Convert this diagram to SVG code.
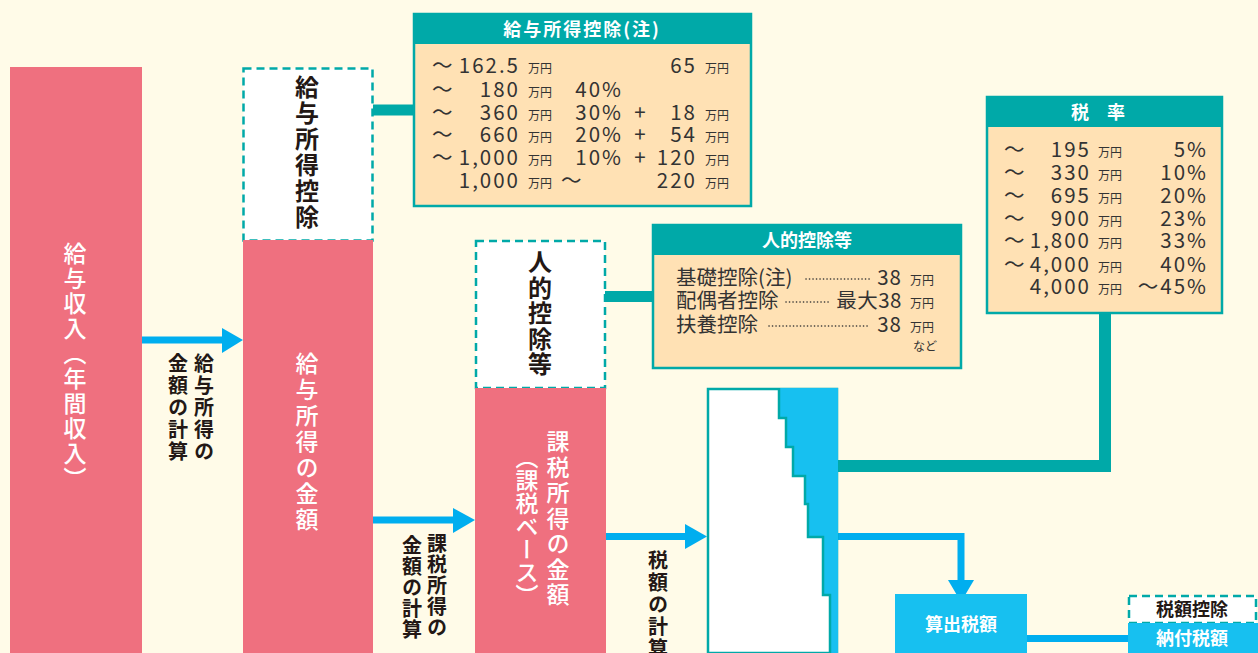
<svg xmlns="http://www.w3.org/2000/svg" width="1258" height="653" viewBox="0 0 1258 653">
<style>
text{font-family:"Noto Sans CJK JP","Noto Sans",sans-serif;}
.v{writing-mode:vertical-rl;}
.pinkT{fill:#fff;font-size:23px;font-weight:500;}
.darkT{fill:#231815;font-size:24px;font-weight:700;}
.lbl{fill:#231815;font-size:20px;font-weight:700;}
.pink{fill:#EF707F;}
.dash{fill:#fff;stroke:#00A9A8;stroke-width:2.5;stroke-dasharray:8 5;}
.tbox{fill:#FFE1B4;stroke:#00A9A8;stroke-width:2.5;}
.thead{fill:#00A9A8;}
.hdr{fill:#fff;font-size:18px;font-weight:700;text-anchor:middle;}
.t{fill:#333;font-size:20.5px;}
.t text{letter-spacing:2px;}
.r{text-anchor:end;}
.u{fill:#333;font-size:12px;}
.blue{fill:#17C0F0;}
.arrow{stroke:#00AEEF;stroke-width:7;fill:none;}
.ahead{fill:#00AEEF;}
.tl{stroke:#00A9A8;fill:none;}
.dots{stroke:#333;stroke-width:1.6;stroke-dasharray:0.1 3.4;stroke-linecap:round;}
.wT{fill:#fff;font-size:18px;font-weight:700;text-anchor:middle;}
.jt{fill:#333;font-size:20.5px;}
</style>
<rect width="1258" height="653" fill="#FFFBE8"/>

<g id="connectors">
  <line class="tl" x1="373" y1="110" x2="415" y2="110" stroke-width="11"/>
  <line class="tl" x1="605" y1="296.5" x2="654" y2="296.5" stroke-width="11"/>
  <path class="tl" d="M1105,313 V466 H837" stroke-width="12"/>
  <line class="arrow" x1="141" y1="340" x2="224" y2="340"/>
  <polygon class="ahead" points="222,328 243,340 222,353"/>
  <line class="arrow" x1="373" y1="520" x2="455" y2="520"/>
  <polygon class="ahead" points="453,508 475,520 453,533"/>
  <line class="arrow" x1="605" y1="536.5" x2="687" y2="536.5"/>
  <polygon class="ahead" points="685,524 707,536.5 685,549"/>
  <path class="arrow" d="M837,536.5 H961 V582" stroke-width="8"/>
  <polygon class="ahead" points="948,580 974,580 961,602"/>
  <line class="arrow" x1="1027" y1="638.5" x2="1129" y2="638.5"/>
  <text class="lbl v" x="204" y="353" letter-spacing="2">給与所得の</text>
  <text class="lbl v" x="178" y="353" letter-spacing="2">金額の計算</text>
  <text class="lbl v" x="437" y="533" letter-spacing="1">課税所得の</text>
  <text class="lbl v" x="412" y="535" letter-spacing="1">金額の計算</text>
  <text class="lbl v" x="658" y="550" letter-spacing="2">税額の計算</text>
</g>

<g id="kyuyo-shunyu">
  <rect class="pink" x="10" y="67" width="132" height="586"/>
  <text class="pinkT v" x="75" y="242" letter-spacing="2">給与収入（年間収入）</text>
</g>

<g id="kyuyo-shotoku-kojo">
  <rect class="dash" x="243.5" y="68.5" width="129" height="172"/>
  <text class="darkT v" x="307" y="75" letter-spacing="2">給与所得控除</text>
</g>

<g id="kyuyo-shotoku">
  <rect class="pink" x="243" y="240" width="130" height="413"/>
  <text class="pinkT v" x="307" y="352" letter-spacing="3">給与所得の金額</text>
</g>

<g id="jinteki-kojo">
  <rect class="dash" x="476" y="241" width="129" height="147"/>
  <text class="darkT v" x="540" y="250" letter-spacing="1.5">人的控除等</text>
</g>

<g id="kazei-shotoku">
  <rect class="pink" x="475" y="388" width="131" height="265"/>
  <text class="pinkT v" x="558" y="430" letter-spacing="2.5">課税所得の金額</text>
  <text class="pinkT v" x="527" y="446" font-size="22">（課税ベース）</text>
</g>

<g id="zeigaku-keisan">
  <rect x="708" y="389" width="129" height="264" fill="#fff" stroke="#00A9A8" stroke-width="2.5"/>
  <polygon class="blue" points="779,388 838,388 838,653 830,653 830,595 823,595 823,537 808,537 808,504 805,504 805,476 793,476 793,447 786,447 786,418 779,418"/>
  <polyline fill="none" stroke="#00A9A8" stroke-width="2.5" points="779,388 779,418 786,418 786,447 793,447 793,476 805,476 805,504 808,504 808,537 823,537 823,595 830,595 830,653"/>
</g>

<g id="kyuyo-kojo-table">
  <rect class="tbox" x="414" y="14" width="337" height="192"/>
  <rect class="thead" x="414" y="14" width="337" height="30"/>
  <text class="hdr" x="582" y="36" letter-spacing="2">給与所得控除(注)</text>
  <g class="t">
    <text x="432" y="73">～</text><text class="r" x="520" y="73">162.5</text>
    <text class="r" x="697" y="73">65</text>
    <text x="432" y="97">～</text><text class="r" x="520" y="97">180</text>
    <text class="r" x="623" y="97">40%</text>
    <text x="432" y="120">～</text><text class="r" x="520" y="120">360</text>
    <text class="r" x="623" y="120">30%</text><text x="641" y="120" text-anchor="middle">+</text><text class="r" x="697" y="120">18</text>
    <text x="432" y="142">～</text><text class="r" x="520" y="142">660</text>
    <text class="r" x="623" y="142">20%</text><text x="641" y="142" text-anchor="middle">+</text><text class="r" x="697" y="142">54</text>
    <text x="432" y="165">～</text><text class="r" x="520" y="165">1,000</text>
    <text class="r" x="623" y="165">10%</text><text x="641" y="165" text-anchor="middle">+</text><text class="r" x="697" y="165">120</text>
    <text class="r" x="520" y="188">1,000</text><text x="561" y="188">～</text>
    <text class="r" x="697" y="188">220</text>
  </g>
  <g class="u">
    <text x="528" y="73">万円</text><text x="705" y="73">万円</text>
    <text x="528" y="97">万円</text>
    <text x="528" y="120">万円</text><text x="705" y="120">万円</text>
    <text x="528" y="142">万円</text><text x="705" y="142">万円</text>
    <text x="528" y="165">万円</text><text x="705" y="165">万円</text>
    <text x="528" y="188">万円</text><text x="705" y="188">万円</text>
  </g>
</g>

<g id="zeiritsu-table">
  <rect class="tbox" x="987" y="97" width="235" height="216"/>
  <rect class="thead" x="987" y="97" width="235" height="30"/>
  <text class="hdr" x="1098" y="119">税　率</text>
  <g class="t">
    <text x="1004" y="157">～</text><text class="r" x="1091" y="157">195</text><text class="r" x="1208" y="157">5%</text>
    <text x="1004" y="180">～</text><text class="r" x="1091" y="180">330</text><text class="r" x="1208" y="180">10%</text>
    <text x="1004" y="203">～</text><text class="r" x="1091" y="203">695</text><text class="r" x="1208" y="203">20%</text>
    <text x="1004" y="226">～</text><text class="r" x="1091" y="226">900</text><text class="r" x="1208" y="226">23%</text>
    <text x="1004" y="248">～</text><text class="r" x="1091" y="248">1,800</text><text class="r" x="1208" y="248">33%</text>
    <text x="1004" y="272">～</text><text class="r" x="1091" y="272">4,000</text><text class="r" x="1208" y="272">40%</text>
    <text class="r" x="1091" y="294">4,000</text><text class="r" x="1208" y="294">～45%</text>
  </g>
  <g class="u">
    <text x="1098" y="157">万円</text><text x="1098" y="180">万円</text><text x="1098" y="203">万円</text>
    <text x="1098" y="226">万円</text><text x="1098" y="248">万円</text><text x="1098" y="272">万円</text>
    <text x="1098" y="294">万円</text>
  </g>
</g>

<g id="jinteki-kojo-table">
  <rect class="tbox" x="653" y="225" width="308" height="143"/>
  <rect class="thead" x="653" y="225" width="308" height="30"/>
  <text class="hdr" x="807" y="247">人的控除等</text>
  <g class="jt">
    <text x="676" y="285">基礎控除(注)</text>
    <text class="r" x="902" y="285" letter-spacing="1">38</text>
    <text x="676" y="308">配偶者控除</text>
    <text class="r" x="902" y="308" letter-spacing="0.5">最大38</text>
    <text x="676" y="332">扶養控除</text>
    <text class="r" x="902" y="332" letter-spacing="1">38</text>
  </g>
  <line class="dots" x1="806" y1="279" x2="870" y2="279"/>
  <line class="dots" x1="786" y1="302" x2="830" y2="302"/>
  <line class="dots" x1="769" y1="326" x2="870" y2="326"/>
  <g class="u">
    <text x="910" y="285">万円</text><text x="910" y="308">万円</text><text x="910" y="332">万円</text>
    <text x="913" y="351">など</text>
  </g>
</g>

<g id="sanshutsu-zeigaku">
  <rect class="blue" x="895" y="594" width="132" height="59"/>
  <text class="wT" x="961" y="631" font-size="19">算出税額</text>
</g>

<g id="zeigaku-kojo">
  <rect class="dash" x="1129" y="596" width="127" height="27"/>
  <text x="1192" y="616" font-size="18" font-weight="700" fill="#231815" text-anchor="middle">税額控除</text>
</g>

<g id="nofu-zeigaku">
  <rect class="blue" x="1128" y="623" width="130" height="30"/>
  <text class="wT" x="1192" y="645">納付税額</text>
</g>
</svg>
